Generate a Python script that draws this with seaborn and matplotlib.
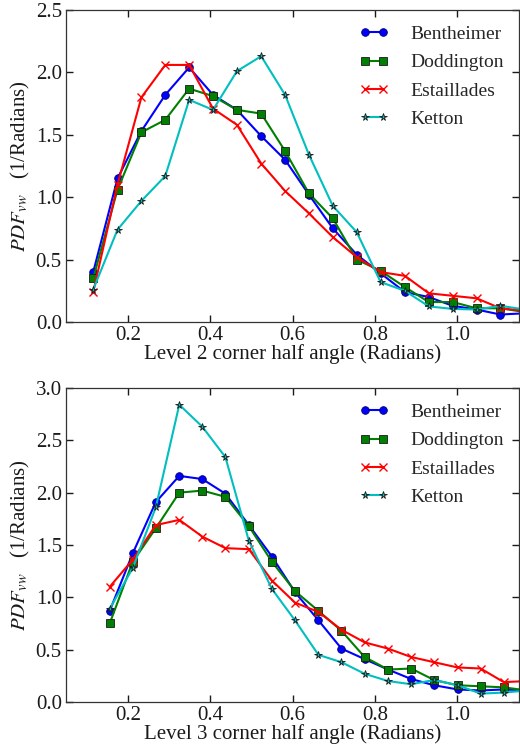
import numpy as np
import pandas as pd
import matplotlib
matplotlib.use("Agg")
import matplotlib.pyplot as plt
import seaborn as sns

# Bin centres (radians) for each level
angle_l2 = [0.116, 0.175, 0.233, 0.291, 0.349, 0.407, 0.465, 0.524, 0.582, 0.640,
            0.698, 0.756, 0.814, 0.873, 0.931, 0.989, 1.047, 1.105, 1.164]
angle_l3 = [0.156, 0.212, 0.268, 0.325, 0.381, 0.437, 0.494, 0.550, 0.606, 0.663,
            0.719, 0.775, 0.832, 0.888, 0.944, 1.001, 1.057, 1.113, 1.170]

# Level 2 PDFs
bent_l2 = [0.40, 1.15, 1.53, 1.82, 2.04, 1.82, 1.70, 1.49, 1.30, 1.02,
           0.75, 0.54, 0.39, 0.24, 0.20, 0.13, 0.10, 0.06, 0.07]
dodd_l2 = [0.35, 1.06, 1.52, 1.62, 1.87, 1.81, 1.70, 1.67, 1.37, 1.03,
           0.83, 0.50, 0.41, 0.28, 0.16, 0.16, 0.11, 0.11, 0.08]
esta_l2 = [0.24, 1.10, 1.80, 2.06, 2.06, 1.71, 1.58, 1.27, 1.05, 0.87,
           0.68, 0.52, 0.40, 0.37, 0.23, 0.21, 0.19, 0.11, 0.09]
kett_l2 = [0.26, 0.74, 0.97, 1.17, 1.78, 1.70, 2.01, 2.13, 1.82, 1.34,
           0.93, 0.72, 0.32, 0.25, 0.125, 0.105, 0.10, 0.13, 0.10]

# Level 3 PDFs
bent_l3 = [0.87, 1.42, 1.91, 2.16, 2.13, 1.99, 1.69, 1.39, 1.05, 0.78,
           0.51, 0.41, 0.31, 0.22, 0.16, 0.12, 0.11, 0.12, 0.11]
dodd_l3 = [0.75, 1.34, 1.66, 2.00, 2.02, 1.96, 1.68, 1.34, 1.06, 0.87,
           0.68, 0.43, 0.31, 0.32, 0.21, 0.16, 0.15, 0.14, 0.11]
esta_l3 = [1.10, 1.36, 1.69, 1.74, 1.58, 1.47, 1.46, 1.16, 0.95, 0.86,
           0.69, 0.57, 0.51, 0.43, 0.38, 0.33, 0.32, 0.19, 0.20]
kett_l3 = [0.89, 1.28, 1.86, 2.84, 2.63, 2.34, 1.54, 1.08, 0.78, 0.45,
           0.38, 0.27, 0.20, 0.17, 0.21, 0.16, 0.08, 0.09, 0.11]

rocks = ["Bentheimer", "Doddington", "Estaillades", "Ketton"]
x_ticks = [0.2, 0.4, 0.6, 0.8, 1.0]

sns.set_theme(style="ticks")
plt.rcParams["font.family"] = ["Liberation Serif", "DejaVu Serif"]
plt.rcParams["mathtext.fontset"] = "stix"

styles = {
    "Bentheimer": dict(color="#0000ff", marker="o", ms=5.5, mfc="#0000ff", mec="#000066", mew=0.6),
    "Doddington": dict(color="#008000", marker="s", ms=5.5, mfc="#008000", mec="k", mew=0.6),
    "Estaillades": dict(color="#ff0000", marker="x", ms=5.5, mfc="#ff0000", mec="#ff0000", mew=1.0),
    "Ketton": dict(color="#00bfbf", marker="*", ms=5.5, mfc="#00bfbf", mec="k", mew=0.6),
}

fig = plt.figure(figsize=(5.2, 7.48), dpi=100)
ax1 = fig.add_axes([0.127, 0.5695, 0.871, 0.4171])
ax2 = fig.add_axes([0.127, 0.0615, 0.871, 0.4198])

panels = [
    (ax1, angle_l2, [bent_l2, dodd_l2, esta_l2, kett_l2], 2.5,
     "Level 2 corner half angle (Radians)"),
    (ax2, angle_l3, [bent_l3, dodd_l3, esta_l3, kett_l3], 3.0,
     "Level 3 corner half angle (Radians)"),
]

fs = 15
for ax, xs, series, ymax, xlabel in panels:
    for name, ys in zip(rocks, series):
        df = pd.DataFrame({"angle": xs, "pdf": ys})
        st = styles[name]
        sns.lineplot(data=df, x="angle", y="pdf", ax=ax, sort=False, label=name,
                     linewidth=1.5, color=st["color"], marker=st["marker"],
                     markersize=st["ms"], markerfacecolor=st["mfc"],
                     markeredgecolor=st["mec"], markeredgewidth=st["mew"])
    ax.set_xlim(0.05, 1.15)
    ax.set_ylim(0, ymax)
    ax.set_xticks(x_ticks)
    ax.set_yticks(np.arange(0, ymax + 0.01, 0.5))
    ax.xaxis.set_major_formatter(matplotlib.ticker.FormatStrFormatter("%.1f"))
    ax.yaxis.set_major_formatter(matplotlib.ticker.FormatStrFormatter("%.1f"))
    ax.tick_params(axis="both", which="major", direction="in", length=5, width=1.0,
                   top=True, right=True, bottom=True, left=True,
                   labelsize=fs, color="k", labelcolor="k", pad=3)
    for sp in ax.spines.values():
        sp.set_visible(True)
        sp.set_color("#333333")
        sp.set_linewidth(0.9)
    ax.set_xlabel(xlabel, fontsize=fs, labelpad=-1, color="k")
    ax.set_ylabel(r"$PDF_{vw}$   (1/Radians)", fontsize=fs, labelpad=3, color="k")
    ax.legend(loc="upper right", frameon=False, numpoints=2, prop={"size": 14},
              handlelength=1.5, handletextpad=1.1, labelspacing=0.55,
              borderpad=0.4, borderaxespad=0.4)

fig.savefig("out.png", dpi=100)
